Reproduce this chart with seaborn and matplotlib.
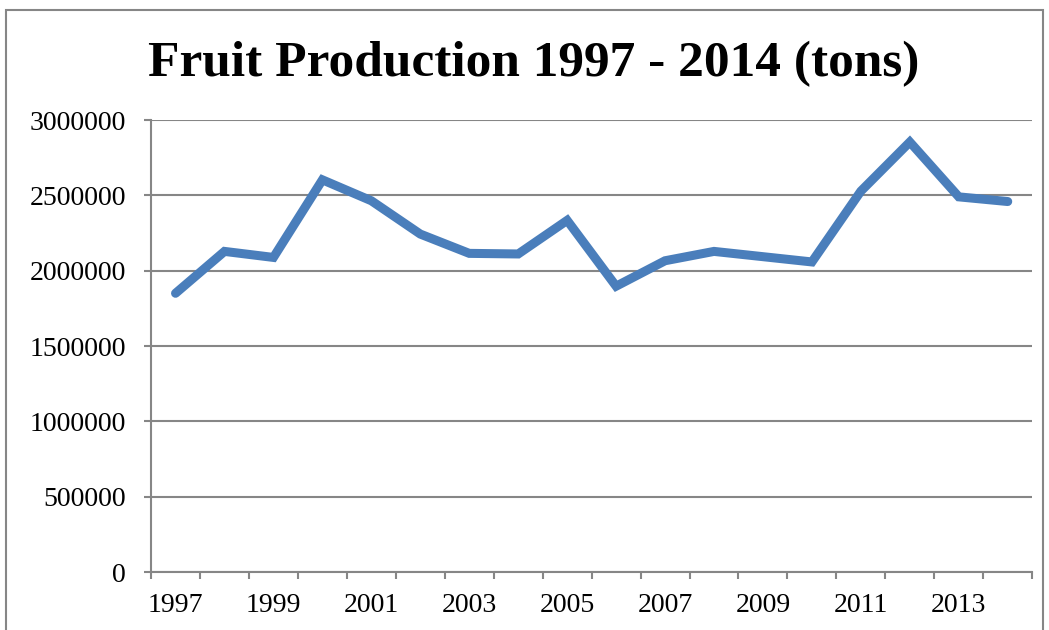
import numpy as np
import pandas as pd
import matplotlib
matplotlib.use("Agg")
import matplotlib.pyplot as plt
from matplotlib.patches import Rectangle
from matplotlib.ticker import FixedLocator, FuncFormatter
import seaborn as sns

# ==========================================
# Data
# ==========================================
years = list(range(1997, 2015))
production = [1850000, 2128000, 2088000, 2603000, 2464000, 2243000,
              2115000, 2111000, 2334000, 1897000, 2066000, 2128000,
              2093000, 2058000, 2528000, 2854000, 2490000, 2459000]
label_years = list(range(1997, 2014, 2))
y_ticks = [0, 500000, 1000000, 1500000, 2000000, 2500000, 3000000]

df = pd.DataFrame({"Year": years, "Production": production})

sns.set_style("white")
plt.rcParams["font.family"] = ["Liberation Serif", "DejaVu Serif"]
plt.rcParams["text.color"] = "black"
plt.rcParams["xtick.color"] = "black"
plt.rcParams["ytick.color"] = "black"

grey = "#868686"
blue = "#4A7EBB"

fig = plt.figure(figsize=(10.49, 6.30), dpi=100)
ax = fig.add_axes([0.144, 0.092, 0.840, 0.7175])

# outer chart border
fig.patches.append(Rectangle((0.006, -0.1), 0.988, 1.084, transform=fig.transFigure,
                             fill=False, edgecolor=grey, linewidth=1.5))

sns.lineplot(data=df, x="Year", y="Production", color=blue, linewidth=6.5,
             solid_capstyle="round", solid_joinstyle="miter", ax=ax)

ax.set_xlim(1996.5, 2014.5)
ax.set_ylim(0, 3000000)

# y axis with gridlines
ax.set_yticks(y_ticks)
ax.yaxis.set_major_formatter(FuncFormatter(lambda v, p: f"{int(v)}"))
ax.grid(axis="y", color=grey, linewidth=1.5)
ax.set_axisbelow(True)

# category labels between tick marks
ax.xaxis.set_major_locator(FixedLocator(label_years))
ax.xaxis.set_minor_locator(FixedLocator(np.arange(1996.5, 2015, 1)))
ax.tick_params(axis="x", which="major", bottom=True, length=0, pad=15, labelsize=20,
               labelcolor="black")
ax.tick_params(axis="x", which="minor", bottom=True, length=5, width=1.5, color=grey,
               direction="out")
ax.tick_params(axis="y", left=True, length=5, width=1.5, color=grey, direction="out",
               pad=13, labelsize=20, labelcolor="black")

for side in ["top", "right"]:
    ax.spines[side].set_visible(False)
for side in ["left", "bottom"]:
    ax.spines[side].set_color(grey)
    ax.spines[side].set_linewidth(1.5)

ax.set_xlabel("")
ax.set_ylabel("")

fig.text(0.509, 0.898, "Fruit Production 1997 - 2014 (tons)", ha="center", va="center",
         fontsize=37, fontweight="bold", color="black")

fig.savefig("out.png", dpi=100)
